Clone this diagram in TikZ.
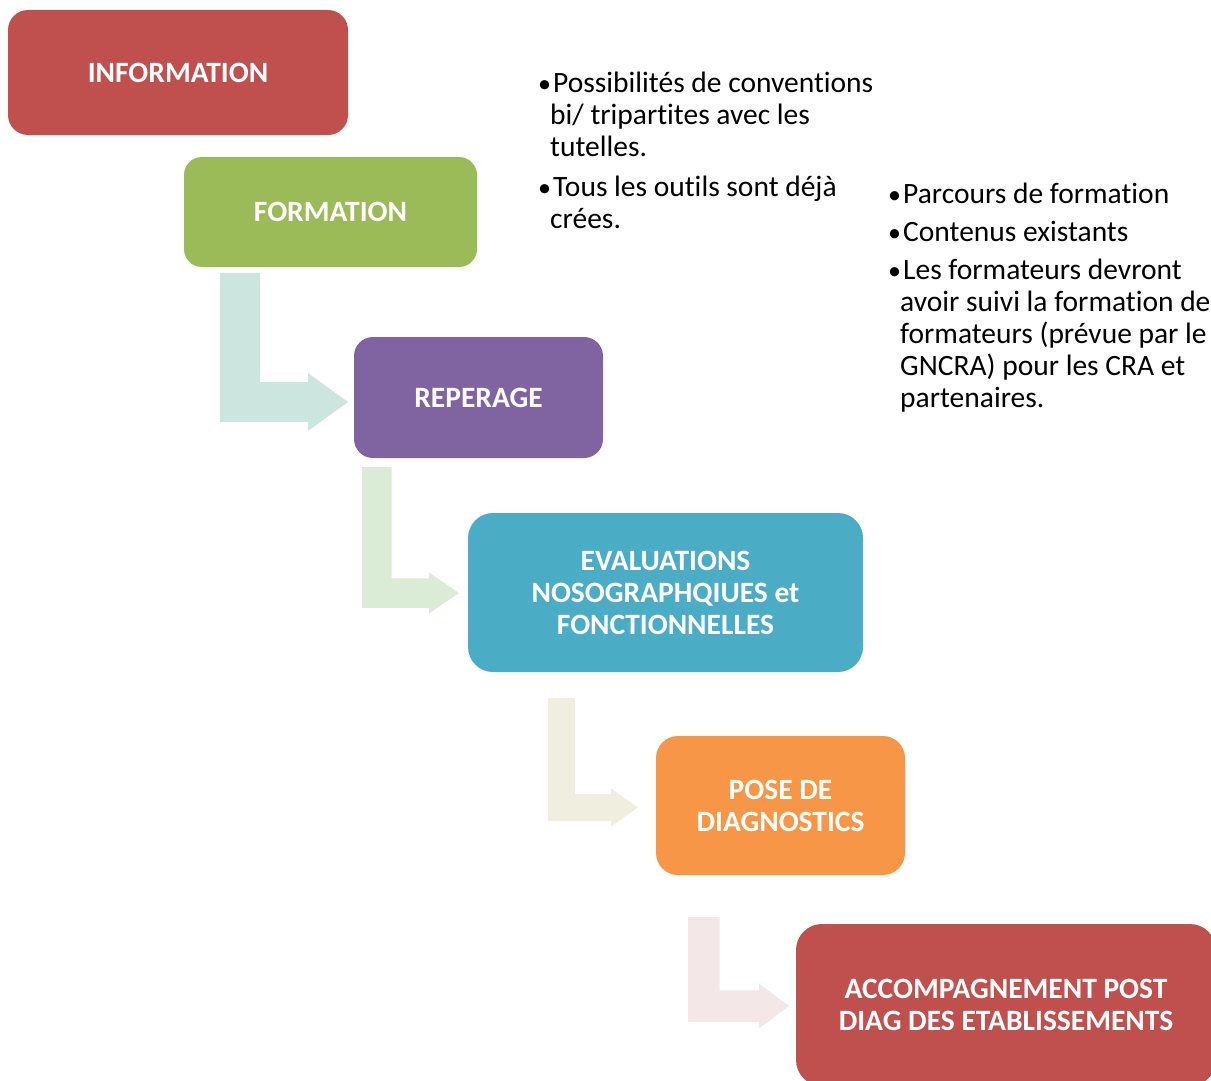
\documentclass[tikz,border=0pt]{standalone}
\usepackage{fontspec}
\setmainfont[Ligatures=NoCommon]{Carlito}
\definecolor{cred}{HTML}{C0504D}
\definecolor{cgreen}{HTML}{9BBB59}
\definecolor{cpurple}{HTML}{8064A2}
\definecolor{cteal}{HTML}{4BACC6}
\definecolor{corange}{HTML}{F79646}
\definecolor{aone}{RGB}{204,229,223}
\definecolor{atwo}{RGB}{218,235,214}
\definecolor{athree}{RGB}{239,238,223}
\definecolor{afour}{RGB}{243,231,231}
\newcommand\bentarr[8]{%
  \fill[#1] (#2,#3) -- ({#2+#4},#3) -- ({#2+#4},{#6-#4/2}) -- ({#5-#8},{#6-#4/2})
    -- ({#5-#8},{#6-#7}) -- (#5,#6) -- ({#5-#8},{#6+#7}) -- ({#5-#8},{#6+#4/2})
    -- (#2,{#6+#4/2}) -- cycle;}
\newcommand\bul{\makebox[15pt][l]{\fontsize{26}{32}\selectfont•}}
\newcommand\ind{\hspace*{12pt}}
\begin{document}
\begin{tikzpicture}[x=1pt,y=-1pt,
  stepbox/.style={rectangle, inner sep=0pt, align=center, text=white,
    font=\fontsize{29.5}{32}\selectfont\bfseries},
  listtext/.style={inner sep=0pt, align=left, anchor=base west,
    font=\fontsize{29.5}{32}\selectfont}]
\useasboundingbox (0,0) rectangle (1211,1081);
% bent arrows
\bentarr{aone}{220}{273}{40}{348}{402}{29}{40}
\bentarr{atwo}{362}{467}{29.5}{459}{593}{20.5}{30}
\bentarr{athree}{548}{698}{27}{638}{807.5}{19}{27}
\bentarr{afour}{688}{917}{31.5}{789}{1006}{22.5}{30}
% boxes
\node[stepbox, fill=cred, rounded corners=20pt, minimum width=340pt, minimum height=125pt] (info) at (178,72.5) {INFORMATION};
\node[stepbox, fill=cgreen, rounded corners=18pt, minimum width=293pt, minimum height=110pt] (form) at (330.5,212) {FORMATION};
\node[stepbox, fill=cpurple, rounded corners=19pt, minimum width=249pt, minimum height=121pt] (rep) at (478.5,397.5) {REPERAGE};
\node[stepbox, fill=cteal, rounded corners=25pt, minimum width=395pt, minimum height=159pt] (eval) at (665.5,592.5) {EVALUATIONS\\NOSOGRAPHQIUES et\\FONCTIONNELLES};
\node[stepbox, fill=corange, rounded corners=22pt, minimum width=249pt, minimum height=139pt] (diag) at (780.5,805.5) {POSE DE\\DIAGNOSTICS};
\node[stepbox, fill=cred, rounded corners=26pt, minimum width=420pt, minimum height=162pt] (acc) at (1006,1005) {ACCOMPAGNEMENT POST\\DIAG DES ETABLISSEMENTS};
% bullet lists (anchored at the baseline of their last line)
\node[listtext] (listA) at (538,228) {\bul Possibilités de conventions\\\ind bi/ tripartites avec les\\\ind tutelles.\\[8pt]\bul Tous les outils sont déjà\\\ind crées.};
\node[listtext] (listB) at (888,407) {\bul Parcours de formation\\[6pt]\bul Contenus existants\\[6pt]\bul Les formateurs devront\\\ind avoir suivi la formation de\\\ind formateurs (prévue par le\\\ind GNCRA) pour les CRA et\\\ind partenaires.};
\end{tikzpicture}
\end{document}
